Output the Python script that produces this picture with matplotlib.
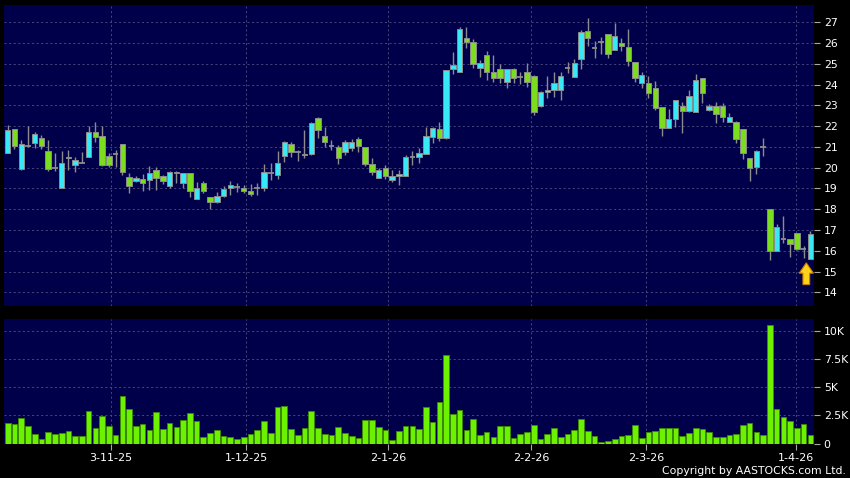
import numpy as np
import matplotlib
matplotlib.use('Agg')
from matplotlib import pyplot as plt
from matplotlib.patches import FancyArrow

# daily OHLC (index 0 = first bar on the left)
opens = [20.72, 21.84, 19.92, 21.03, 21.20, 21.44, 20.78, 20.00, 19.00, 20.52,
         20.14, 20.22, 20.51, 21.73, 21.54, 20.56, 20.67, 21.13, 19.56, 19.38,
         19.44, 19.39, 19.89, 19.60, 19.14, 19.78, 19.27, 19.74, 18.50, 19.27,
         18.57, 18.37, 18.62, 19.00, 19.06, 19.00, 18.90, 19.03, 19.03, 19.74,
         19.65, 20.58, 21.13, 20.74, 20.68, 20.64, 22.41, 21.54, 21.03, 21.00,
         20.74, 20.93, 21.38, 21.00, 20.19, 19.52, 20.00, 19.42, 19.58, 19.62,
         20.53, 20.50, 20.64, 21.49, 21.85, 21.41, 24.74, 24.62, 26.23, 26.04,
         24.78, 25.43, 24.62, 24.75, 24.11, 24.75, 24.34, 24.62, 24.43, 22.99,
         23.66, 23.73, 23.73, 24.78, 24.38, 25.22, 26.58, 25.78, 26.07, 26.42,
         25.68, 26.00, 25.80, 25.10, 24.09, 24.09, 23.82, 22.90, 21.90, 22.32,
         22.98, 22.75, 22.70, 24.31, 22.78, 22.99, 22.99, 22.22, 22.22, 21.85,
         20.45, 20.04, 20.99, 18.03, 16.00, 16.58, 16.58, 16.86, 16.10, 15.62]
highs = [22.06, 21.87, 21.35, 22.00, 21.73, 21.59, 21.34, 20.70, 20.78, 20.83,
         20.50, 20.73, 21.99, 22.18, 22.02, 20.70, 20.83, 21.15, 19.76, 19.60,
         19.68, 20.08, 20.02, 19.66, 19.82, 19.82, 19.75, 19.75, 19.32, 19.37,
         18.58, 18.81, 19.13, 19.35, 19.27, 19.16, 19.19, 19.27, 20.18, 20.21,
         20.80, 21.29, 21.25, 20.85, 21.80, 22.22, 22.42, 21.96, 21.33, 21.09,
         21.35, 21.38, 21.48, 21.00, 20.48, 19.97, 20.13, 19.87, 19.87, 20.61,
         20.80, 20.93, 21.96, 21.96, 22.18, 24.70, 25.59, 26.76, 26.78, 26.20,
         25.19, 25.62, 25.43, 24.97, 24.75, 24.80, 24.62, 25.03, 24.45, 23.69,
         24.42, 24.59, 24.59, 25.10, 25.24, 26.63, 27.19, 26.10, 26.31, 26.42,
         26.97, 26.26, 26.68, 25.10, 24.62, 24.43, 24.18, 22.91, 22.83, 23.25,
         23.18, 23.74, 24.52, 24.33, 23.05, 23.18, 23.10, 22.65, 22.23, 21.85,
         20.45, 20.87, 21.42, 18.03, 17.29, 17.68, 16.58, 16.86, 16.24, 16.97]
lows = [20.70, 20.92, 19.88, 21.00, 20.96, 20.91, 19.83, 19.83, 19.00, 19.87,
        19.80, 20.20, 20.50, 21.23, 20.07, 20.03, 20.03, 19.63, 18.76, 19.30,
        18.90, 18.94, 18.94, 19.20, 19.00, 19.25, 19.00, 18.58, 18.50, 18.77,
        18.03, 18.30, 18.57, 18.70, 18.84, 18.78, 18.65, 18.67, 18.87, 19.40,
        19.46, 20.29, 20.53, 20.34, 20.48, 20.61, 21.41, 21.01, 20.87, 20.19,
        20.61, 20.80, 20.77, 20.10, 19.65, 19.49, 19.46, 19.33, 19.17, 19.60,
        20.13, 20.21, 20.64, 21.17, 21.29, 21.40, 24.50, 24.60, 25.78, 24.78,
        24.38, 24.22, 24.14, 24.06, 23.85, 24.06, 24.01, 23.90, 22.54, 22.94,
        23.34, 23.42, 23.28, 24.54, 24.38, 24.74, 25.88, 25.30, 25.46, 25.30,
        25.68, 25.62, 24.87, 24.14, 23.82, 23.34, 22.78, 21.50, 21.90, 21.98,
        21.68, 22.69, 22.70, 23.10, 22.72, 22.16, 22.21, 22.20, 21.19, 20.42,
        19.35, 19.71, 20.55, 15.56, 16.00, 16.35, 15.68, 16.03, 15.65, 15.62]
closes = [21.79, 21.05, 21.15, 21.03, 21.60, 21.04, 19.93, 20.00, 20.23, 20.45,
          20.38, 20.22, 21.73, 21.47, 20.14, 20.15, 20.67, 19.80, 19.10, 19.48,
          19.28, 19.76, 19.50, 19.34, 19.80, 19.74, 19.74, 18.90, 19.00, 18.87,
          18.37, 18.63, 18.97, 19.16, 19.06, 18.87, 18.75, 19.03, 19.80, 19.74,
          20.21, 21.22, 20.77, 20.74, 20.62, 22.14, 21.80, 21.22, 21.03, 20.48,
          21.22, 21.25, 21.03, 20.19, 19.81, 19.90, 19.62, 19.58, 19.68, 20.53,
          20.53, 20.69, 21.51, 21.93, 21.41, 24.69, 24.95, 26.66, 26.04, 24.98,
          25.03, 24.59, 24.30, 24.30, 24.74, 24.30, 24.34, 24.14, 22.67, 23.63,
          23.74, 24.06, 24.40, 24.78, 25.03, 26.52, 26.23, 25.78, 26.07, 25.46,
          26.33, 25.88, 25.15, 24.30, 24.45, 23.58, 22.87, 21.90, 22.32, 23.24,
          22.75, 23.43, 24.22, 23.58, 22.99, 22.57, 22.42, 22.43, 21.36, 20.72,
          19.96, 20.79, 20.99, 16.00, 17.12, 16.58, 16.34, 16.10, 16.10, 16.83]
volumes = [1845, 1696, 2230, 1530, 833, 417, 1030, 820, 923, 1150,
           700, 670, 2930, 1385, 2455, 1590, 744, 4180, 3080, 1530,
           1710, 1175, 2780, 1295, 1800, 1430, 2085, 2750, 1995, 550,
           965, 1220, 640, 565, 372, 550, 820, 1175, 1995, 965,
           3214, 3290, 1280, 730, 1339, 2870, 1339, 850, 730, 1458,
           952, 685, 476, 2054, 2054, 1429, 1190, 268, 1131, 1548,
           1548, 1280, 3230, 1935, 3700, 7870, 2600, 2950, 1220, 2143,
           714, 1012, 565, 1577, 1518, 506, 863, 982, 1637, 357,
           863, 1339, 595, 863, 1190, 2173, 1131, 655, 90, 238,
           357, 685, 744, 1637, 506, 982, 1071, 1339, 1399, 1399,
           655, 952, 1369, 1250, 1012, 565, 565, 744, 804, 1607,
           1815, 982, 774, 10536, 3036, 2351, 2024, 1399, 1756, 714]

date_pos = [15.3, 35.4, 56.4, 77.6, 94.7, 116.8]
date_labels = ['3-11-25', '1-12-25', '2-1-26', '2-2-26', '2-3-26', '1-4-26']
price_ticks = list(range(14, 28))
vol_ticks = [0, 2500, 5000, 7500, 10000]
vol_labels = ['0', '2.5K', '5K', '7.5K', '10K']

BG = '#00004a'
UP = '#38e8f4'
DOWN = '#7cdc1e'
EDGE = '#8c8c8c'
GRID = '#4f4f82'

o = np.array(opens)
h = np.array(highs)
l = np.array(lows)
c = np.array(closes)
x = np.arange(len(o))

fig = plt.figure(figsize=(8.5, 4.78), dpi=100, facecolor='black')
ax = fig.add_axes([4/850, 1-306/478, 810/850, 301/478], facecolor=BG)
axv = fig.add_axes([4/850, 1-443.5/478, 810/850, 124.5/478], facecolor=BG)

for a in (ax, axv):
    for s in a.spines.values():
        s.set_visible(False)
    a.set_xlim(-0.55, 119.54)
    a.set_xticks(date_pos)
    a.yaxis.tick_right()
    a.grid(True, color=GRID, linestyle=(0, (2.5, 3)), linewidth=0.6)
    a.set_axisbelow(True)
    a.tick_params(axis='y', colors='#a8a8a8', labelcolor='white', length=4,
                  width=0.8, pad=3, labelsize=7.8)

# candles: cyan = close above open, green = close below open, grey dash = unchanged
ax.vlines(x, l, h, color=EDGE, linewidth=1, zorder=2)
up = c > o
down = c < o
flat = c == o
ax.bar(x[up], (c - o)[up], bottom=o[up], width=0.8, color=UP,
       edgecolor=EDGE, linewidth=0.7, zorder=3)
ax.bar(x[down], (o - c)[down], bottom=c[down], width=0.8, color=DOWN,
       edgecolor=EDGE, linewidth=0.7, zorder=3)
ax.hlines(o[flat], x[flat] - 0.42, x[flat] + 0.42, color=EDGE, linewidth=1.3, zorder=3)

# marker arrow under the last bar
tip = l[-1] - 0.2
ax.add_patch(FancyArrow(x[-1] - 0.6, tip - 1.05, 0, 1.05, width=1.0, head_width=2.1,
                        head_length=0.5, length_includes_head=True,
                        facecolor='#ffd21a', edgecolor='#c87a00', linewidth=0.8, zorder=4))

ax.set_ylim(13.34, 27.83)
ax.set_yticks(price_ticks)
ax.set_yticklabels([str(t) for t in price_ticks])
ax.tick_params(axis='x', length=0, labelbottom=False)

# volume
axv.bar(x, volumes, width=0.84, color='#6cf200', edgecolor='#3a8a00', linewidth=0.6, zorder=3)
axv.set_ylim(0, 11070)
axv.set_yticks(vol_ticks)
axv.set_yticklabels(vol_labels)
axv.set_xticklabels(date_labels)
axv.tick_params(axis='x', colors='#a8a8a8', labelcolor='white', length=4,
                width=0.8, pad=3, labelsize=8)

fig.text(0.9953, 1-471/478, 'Copyright by AASTOCKS.com Ltd.', color='white',
         fontsize=7.8, ha='right', va='center')

plt.savefig('out.png', dpi=100, facecolor='black')
